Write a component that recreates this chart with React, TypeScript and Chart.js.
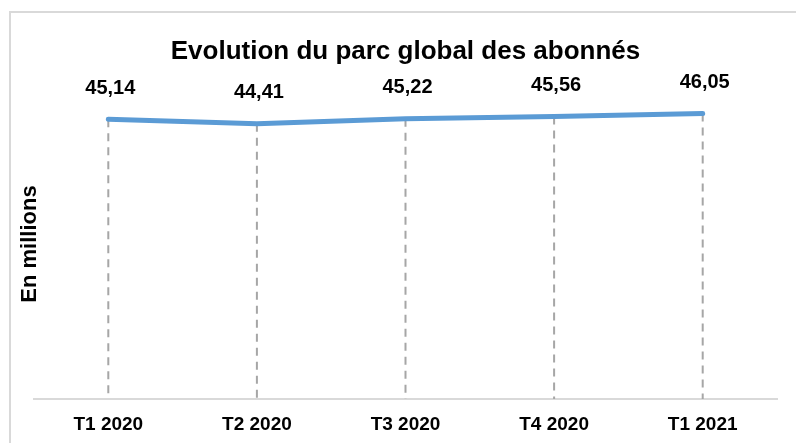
import React, { useEffect, useRef } from "react";
import { Chart, registerables } from "chart.js";

Chart.register(...registerables);

const categories: string[] = ["T1 2020", "T2 2020", "T3 2020", "T4 2020", "T1 2021"];
const subscribers: number[] = [45.14, 44.41, 45.22, 45.56, 46.05];
const chartTitle = "Evolution du parc global des abonnés";
const yAxisTitle = "En millions";

const FONT = "'Liberation Sans', Arial, sans-serif";

const dropLinesPlugin = {
  id: "dropLines",
  beforeDatasetsDraw(chart: any) {
    const { ctx, chartArea } = chart;
    const meta = chart.getDatasetMeta(0);
    ctx.save();
    ctx.strokeStyle = "#a6a6a6";
    ctx.lineWidth = 2;
    ctx.setLineDash([8, 6]);
    meta.data.forEach((pt: any) => {
      ctx.beginPath();
      ctx.moveTo(pt.x, pt.y);
      ctx.lineTo(pt.x, chartArea.bottom);
      ctx.stroke();
    });
    ctx.restore();
  },
};

const valueLabelsPlugin = {
  id: "valueLabels",
  afterDatasetsDraw(chart: any) {
    const { ctx } = chart;
    const meta = chart.getDatasetMeta(0);
    const data = chart.data.datasets[0].data as number[];
    ctx.save();
    ctx.font = `bold 20px ${FONT}`;
    ctx.fillStyle = "#000000";
    ctx.textAlign = "center";
    ctx.textBaseline = "middle";
    meta.data.forEach((pt: any, i: number) => {
      const txt = data[i].toFixed(2).replace(".", ",");
      ctx.fillText(txt, pt.x + 2, pt.y - 31);
    });
    ctx.restore();
  },
};

export default function App() {
  const canvasRef = useRef<HTMLCanvasElement | null>(null);

  useEffect(() => {
    if (!canvasRef.current) return;
    const chart = new Chart(canvasRef.current, {
      type: "line",
      data: {
        labels: categories,
        datasets: [
          {
            data: subscribers,
            borderColor: "#5B9BD5",
            backgroundColor: "#5B9BD5",
            borderWidth: 5,
            borderCapStyle: "round",
            borderJoinStyle: "round",
            pointRadius: 0,
            pointHoverRadius: 0,
            tension: 0,
            fill: false,
          },
        ],
      },
      options: {
        animation: false,
        responsive: false,
        devicePixelRatio: 1,
        layout: { padding: { top: 20, right: 19, left: 0, bottom: 0 } },
        plugins: {
          legend: { display: false },
          tooltip: { enabled: false },
          title: {
            display: true,
            text: chartTitle,
            fullSize: false,
            color: "#000000",
            font: { family: FONT, size: 26, weight: "bold" },
            padding: { top: 16.6, bottom: 21.2 },
          },
        },
        scales: {
          x: {
            offset: true,
            grid: { display: false, drawTicks: false },
            border: { display: true, color: "#d9d9d9", width: 2 },
            ticks: {
              color: "#000000",
              padding: 14,
              font: { family: FONT, size: 19, weight: "bold" },
              maxRotation: 0,
            },
            afterFit: (scale: any) => {
              scale.height = 44;
            },
          },
          y: {
            min: 0,
            max: 50,
            grid: { display: false, drawTicks: false },
            border: { display: false },
            ticks: { display: false },
            title: {
              display: true,
              text: yAxisTitle,
              color: "#000000",
              font: { family: FONT, size: 22, weight: "bold" },
              padding: { top: 17, bottom: 0 },
            },
            afterFit: (scale: any) => {
              scale.width = 34;
            },
          },
        },
      },
      plugins: [dropLinesPlugin, valueLabelsPlugin],
    });
    return () => chart.destroy();
  }, []);

  return (
    <div
      style={{
        position: "fixed",
        left: 0,
        top: 0,
        width: 796,
        height: 443,
        overflow: "hidden",
        background: "#ffffff",
      }}
    >
      <div
        style={{
          position: "absolute",
          left: 9,
          top: 11,
          width: 1000,
          height: 800,
          border: "2px solid #d9d9d9",
          boxSizing: "border-box",
        }}
      />
      <canvas
        ref={canvasRef}
        width={796}
        height={443}
        style={{ position: "absolute", left: 0, top: 0, display: "block" }}
      />
    </div>
  );
}
